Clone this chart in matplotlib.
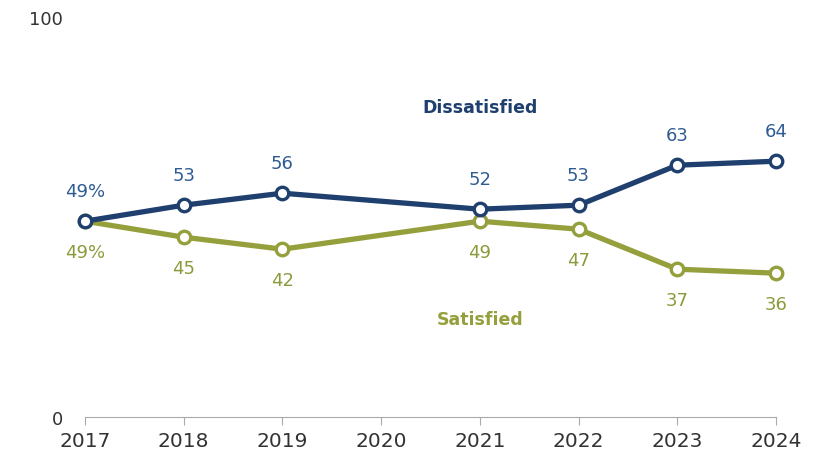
import matplotlib.pyplot as plt

years = [2017, 2018, 2019, 2021, 2022, 2023, 2024]
dissatisfied = [49, 53, 56, 52, 53, 63, 64]
satisfied = [49, 45, 42, 49, 47, 37, 36]
tick_years = [2017, 2018, 2019, 2020, 2021, 2022, 2023, 2024]

blue = "#1f3f6e"
blue_txt = "#2f5b93"
green = "#959f3c"
green_txt = "#8d9a3b"

fig = plt.figure(figsize=(8.25, 4.56), dpi=100)
ax = fig.add_axes([0.103, 0.083, 0.8376, 0.877])

ax.plot(years, dissatisfied, color=blue, lw=3.8, marker="o", ms=9,
        mfc="white", mec=blue, mew=2.4, zorder=3, solid_capstyle="round")
ax.plot(years, satisfied, color=green, lw=3.8, marker="o", ms=9,
        mfc="white", mec=green, mew=2.4, zorder=2, solid_capstyle="round")

for i, (x, d, s) in enumerate(zip(years, dissatisfied, satisfied)):
    suffix = "%" if i == 0 else ""
    ax.annotate(f"{d}{suffix}", (x, d), xytext=(0, 22), textcoords="offset points",
                ha="center", va="center", color=blue_txt, fontsize=13)
    ax.annotate(f"{s}{suffix}", (x, s), xytext=(0, -22), textcoords="offset points",
                ha="center", va="center", color=green_txt, fontsize=13)

ax.text(2021, 77.5, "Dissatisfied", color=blue, fontsize=12.5, fontweight="bold",
        ha="center", va="center")
ax.text(2021, 24.5, "Satisfied", color=green, fontsize=12.5, fontweight="bold",
        ha="center", va="center")

ax.set_xlim(2017, 2024)
ax.set_ylim(0, 100)
ax.set_xticks(tick_years)
ax.set_xticklabels([str(y) for y in tick_years], fontsize=14.5, color="#333333")
ax.set_yticks([0, 100])
ax.set_yticklabels(["0", "100"], fontsize=13, color="#333333")
ax.tick_params(axis="y", length=0, pad=16)
ax.tick_params(axis="x", length=6, color="#aaaaaa", pad=4)
for side in ["top", "right", "left"]:
    ax.spines[side].set_visible(False)
ax.spines["bottom"].set_color("#aaaaaa")
for line in ax.lines:
    line.set_clip_on(False)

fig.savefig("out.png", dpi=100)
